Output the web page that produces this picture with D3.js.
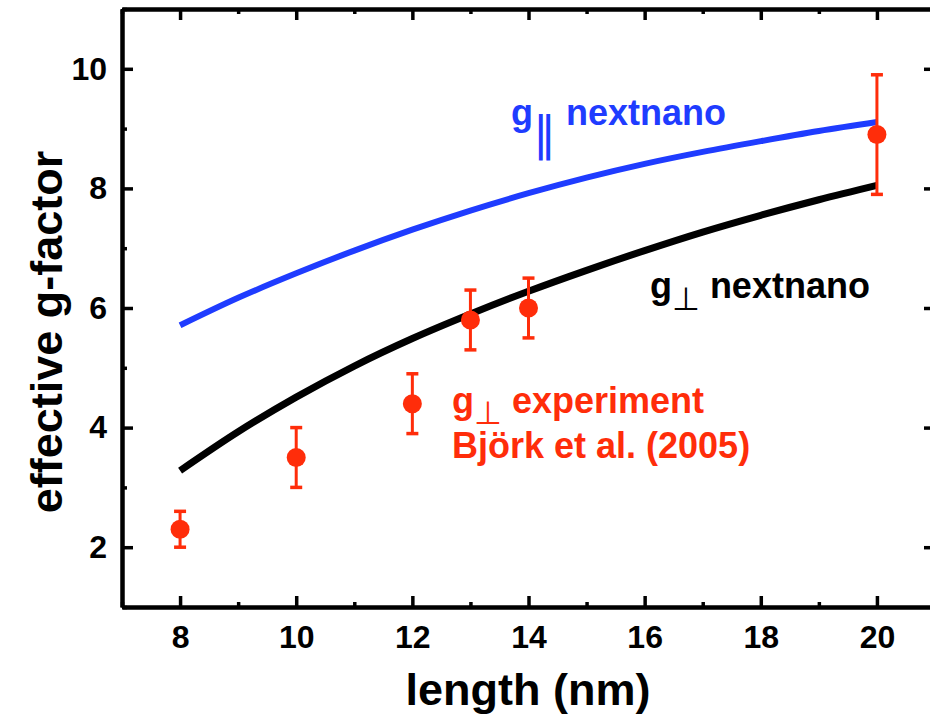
<!DOCTYPE html>
<html>
<head>
<meta charset="utf-8">
<script src="https://cdn.jsdelivr.net/npm/d3@7"></script>
<style>
  body { margin: 0; background: #fff; }
  svg { display: block; font-family: "Liberation Sans", Arial, sans-serif; font-weight: bold; }
</style>
</head>
<body>
<svg id="chart" width="930" height="717"></svg>
<script>
// nextnano calculations
const lengths = [8, 9, 10, 11, 12, 13, 14, 15, 16, 17, 18, 19, 20];
const gParallel = [5.71, 6.17, 6.58, 6.96, 7.31, 7.63, 7.92, 8.18, 8.41, 8.61, 8.79, 8.96, 9.11];
const gPerp = [3.28, 3.93, 4.51, 5.03, 5.49, 5.90, 6.28, 6.63, 6.96, 7.27, 7.55, 7.81, 8.05];

// experiment (Björk et al. 2005)
const expLength = [8, 10, 12, 13, 14, 20];
const expG = [2.3, 3.5, 4.4, 5.8, 6.0, 8.9];
const expErr = [0.3, 0.5, 0.5, 0.5, 0.5, 1.0];

const xTicks = [8, 10, 12, 14, 16, 18, 20];
const xMinor = [7, 9, 11, 13, 15, 17, 19, 21];
const yTicks = [2, 4, 6, 8, 10];
const yMinor = [1, 3, 5, 7, 9, 11];

const blue = "#1f3cff";
const red = "#ff2d0a";

let svg = d3.select("#chart");
let pLeft = 122, pRight = 935, pTop = 9, pBottom = 607;

var x = d3.scaleLinear().domain([7, 21]).range([pLeft, pRight]);
var y = d3.scaleLinear().domain([1, 11]).range([pBottom, pTop]);

// axes: major ticks inward with labels, minor ticks inward
function styleAxis(g) {
	g.select(".domain").attr("stroke", "#000").attr("stroke-width", 4);
	g.selectAll(".tick line").attr("stroke", "#000").attr("stroke-width", 3.5);
	g.selectAll("text").attr("fill", "#000").style("font-size", "32px")
		.style("font-family", "'Liberation Sans', Arial, sans-serif").style("font-weight", "bold");
}

svg.append("g").attr("transform", "translate(0," + pBottom + ")")
	.call(d3.axisBottom(x).tickValues(xTicks).tickSize(-11).tickSizeOuter(0).tickPadding(18).tickFormat(d3.format("d")))
	.call(styleAxis);
svg.append("g").attr("transform", "translate(0," + pBottom + ")")
	.call(d3.axisBottom(x).tickValues(xMinor).tickSize(-5).tickSizeOuter(0).tickFormat(""))
	.call(styleAxis);
svg.append("g").attr("transform", "translate(0," + pTop + ")")
	.call(d3.axisTop(x).tickValues(xTicks).tickSize(-11).tickSizeOuter(0).tickFormat(""))
	.call(styleAxis);
svg.append("g").attr("transform", "translate(0," + pTop + ")")
	.call(d3.axisTop(x).tickValues(xMinor).tickSize(-5).tickSizeOuter(0).tickFormat(""))
	.call(styleAxis);

svg.append("g").attr("transform", "translate(" + pLeft + ",0)")
	.call(d3.axisLeft(y).tickValues(yTicks).tickSize(-11).tickSizeOuter(0).tickPadding(15).tickFormat(d3.format("d")))
	.call(styleAxis);
svg.append("g").attr("transform", "translate(" + pLeft + ",0)")
	.call(d3.axisLeft(y).tickValues(yMinor).tickSize(-5).tickSizeOuter(0).tickFormat(""))
	.call(styleAxis);
svg.append("g").attr("transform", "translate(" + pRight + ",0)")
	.call(d3.axisRight(y).tickValues(yTicks).tickSize(-11).tickSizeOuter(0).tickFormat(""))
	.call(styleAxis);
svg.append("g").attr("transform", "translate(" + pRight + ",0)")
	.call(d3.axisRight(y).tickValues(yMinor).tickSize(-5).tickSizeOuter(0).tickFormat(""))
	.call(styleAxis);

// axis titles
svg.append("text")
	.attr("x", 528).attr("y", 705)
	.attr("text-anchor", "middle")
	.style("font-size", "45px")
	.text("length (nm)");

svg.append("text")
	.attr("transform", "translate(62,332) rotate(-90)")
	.attr("text-anchor", "middle")
	.style("font-size", "45px")
	.text("effective g-factor");

// curves
var line = d3.line().curve(d3.curveMonotoneX)
	.x((d, i) => x(lengths[i]))
	.y(d => y(d));

svg.append("path").datum(gParallel)
	.attr("d", line).attr("fill", "none")
	.attr("stroke", blue).attr("stroke-width", 6);

svg.append("path").datum(gPerp)
	.attr("d", line).attr("fill", "none")
	.attr("stroke", "#000").attr("stroke-width", 7);

// experimental points with error bars
let pts = svg.append("g").selectAll("g")
	.data(expLength)
	.enter()
	.append("g");

pts.append("line")
	.attr("x1", d => x(d)).attr("x2", d => x(d))
	.attr("y1", (d, i) => y(expG[i] + expErr[i]))
	.attr("y2", (d, i) => y(expG[i] - expErr[i]))
	.attr("stroke", red).attr("stroke-width", 3);
pts.append("line")
	.attr("x1", d => x(d) - 6).attr("x2", d => x(d) + 6)
	.attr("y1", (d, i) => y(expG[i] + expErr[i]))
	.attr("y2", (d, i) => y(expG[i] + expErr[i]))
	.attr("stroke", red).attr("stroke-width", 3.5);
pts.append("line")
	.attr("x1", d => x(d) - 6).attr("x2", d => x(d) + 6)
	.attr("y1", (d, i) => y(expG[i] - expErr[i]))
	.attr("y2", (d, i) => y(expG[i] - expErr[i]))
	.attr("stroke", red).attr("stroke-width", 3.5);
pts.append("circle")
	.attr("cx", d => x(d))
	.attr("cy", (d, i) => y(expG[i]))
	.attr("r", 9.5)
	.attr("fill", red);

// annotations
function label(px, py, color, sub, rest, subFont, subDy) {
	let t = svg.append("text").attr("x", px).attr("y", py)
		.attr("fill", color).style("font-size", "36px");
	t.append("tspan").text("g");
	t.append("tspan").text(sub)
		.style("font-family", "'DejaVu Sans', sans-serif")
		.style("font-weight", "normal")
		.style("font-size", subFont).attr("dy", subDy);
	t.append("tspan").text(rest).attr("dy", -subDy);
	return t;
}

label(511, 125, blue, "\u2016", " nextnano", "46px", 24);
label(650, 298, "#000", "\u22A5", " nextnano", "32px", 12);
label(452, 413, red, "\u22A5", " experiment", "32px", 11);

svg.append("text").attr("x", 452).attr("y", 458)
	.attr("fill", red).style("font-size", "36px")
	.text("Björk et al. (2005)");
</script>
</body>
</html>
